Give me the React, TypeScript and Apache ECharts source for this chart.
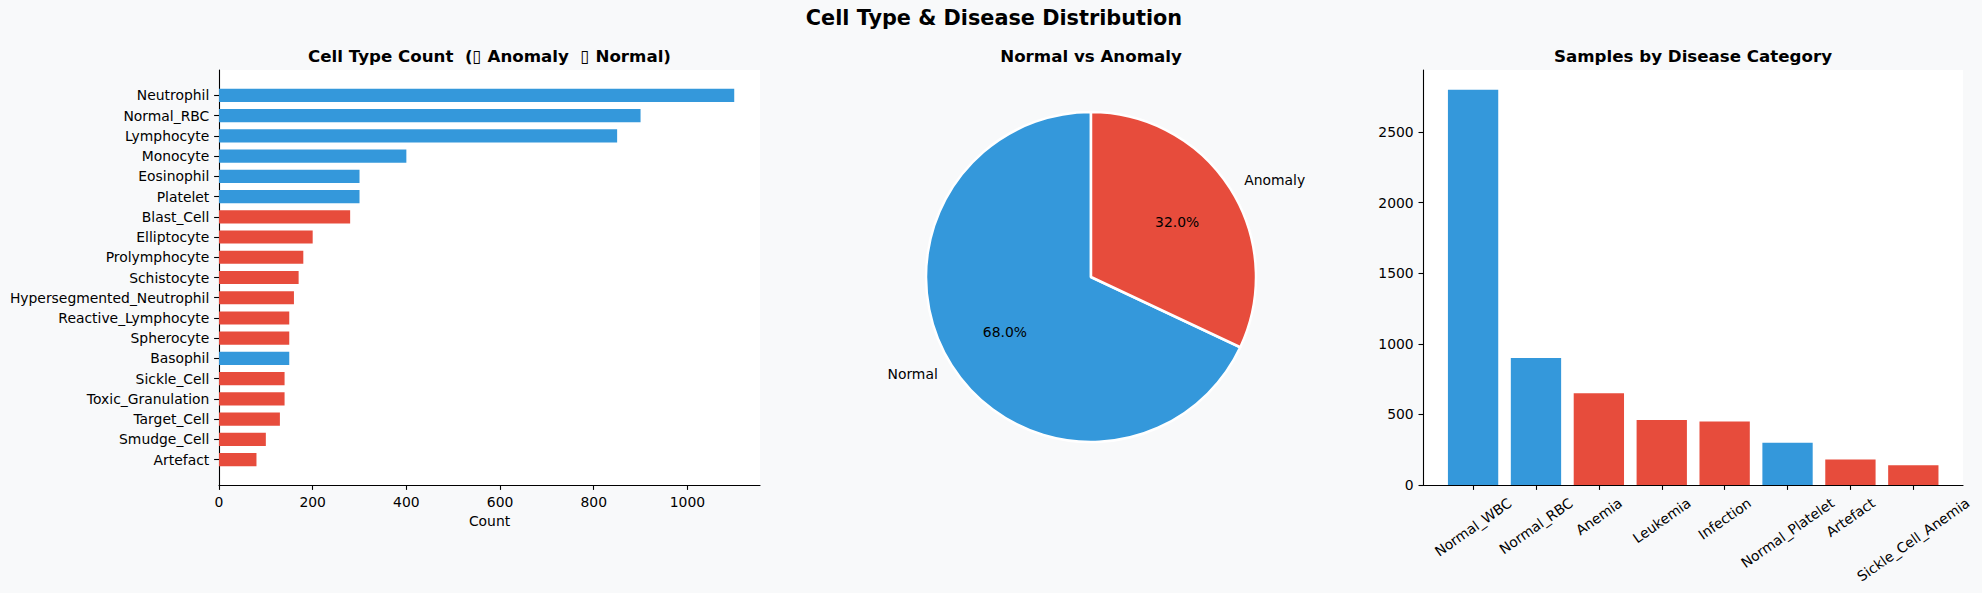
import React, { useEffect, useRef } from "react";
import * as echarts from "echarts";

const cellTypes = [
  "Neutrophil", "Normal_RBC", "Lymphocyte", "Monocyte", "Eosinophil", "Platelet",
  "Blast_Cell", "Elliptocyte", "Prolymphocyte", "Schistocyte", "Hypersegmented_Neutrophil",
  "Reactive_Lymphocyte", "Spherocyte", "Basophil", "Sickle_Cell", "Toxic_Granulation",
  "Target_Cell", "Smudge_Cell", "Artefact",
];
const cellCounts = [1100, 900, 850, 400, 300, 300, 280, 200, 180, 170, 160, 150, 150, 150, 140, 140, 130, 100, 80];
const cellIsNormal = [true, true, true, true, true, true, false, false, false, false, false, false, false, true, false, false, false, false, false];
const cellTicks = [0, 200, 400, 600, 800, 1000];

const pieLabels = ["Normal", "Anomaly"];
const pieValues = [68, 32];

const diseases = ["Normal_WBC", "Normal_RBC", "Anemia", "Leukemia", "Infection", "Normal_Platelet", "Artefact", "Sickle_Cell_Anemia"];
const diseaseCounts = [2800, 900, 650, 460, 450, 300, 180, 140];
const diseaseIsNormal = [true, true, false, false, false, true, false, false];
const diseaseTicks = [0, 500, 1000, 1500, 2000, 2500];

const BLUE = "#3498db";
const RED = "#e74c3c";
const BG = "#f8f9fa";
const FONT = '"DejaVu Sans", sans-serif';
const FS = 13.9;

function measure(s: string, font: string) {
  const c = document.createElement("canvas").getContext("2d");
  if (!c) return s.length * FS * 0.6;
  c.font = font;
  return c.measureText(s).width;
}

const axisCommon = {
  axisLine: { show: true, onZero: false, lineStyle: { color: "#000", width: 1.1 } },
  splitLine: { show: false },
};

export default function App() {
  const ref = useRef<HTMLDivElement>(null);
  useEffect(() => {
    const chart = echarts.init(ref.current!, null, { renderer: "svg" });

    // left: horizontal bars, matplotlib-like margins
    const hBar = 0.65;
    const nC = cellTypes.length;
    const spanC = nC - 1 + hBar;
    const yMinL = -hBar / 2 - 0.05 * spanC;
    const yMaxL = nC - 1 + hBar / 2 + 0.05 * spanC;
    const xMaxL = Math.max(...cellCounts) * 1.05;

    // right: vertical bars
    const wBar = 0.8;
    const nD = diseases.length;
    const spanD = nD - 1 + wBar;
    const xMinR = -wBar / 2 - 0.05 * spanD;
    const xMaxR = nD - 1 + wBar / 2 + 0.05 * spanD;
    const yMaxR = Math.max(...diseaseCounts) * 1.05;

    const rot = (35 * Math.PI) / 180;
    const lineH = FS * 1.17;
    const rich: Record<string, any> = {};
    diseases.forEach((d, i) => {
      const w = measure(d, `${FS}px "DejaVu Sans"`);
      const H = w * Math.sin(rot) + lineH * Math.cos(rot);
      rich["l" + i] = {
        fontFamily: FONT,
        fontSize: FS,
        color: "#000",
        padding: [H * Math.cos(rot), H * Math.sin(rot), 0, 0],
      };
    });

    const total = pieValues.reduce((a, b) => a + b, 0);
    const pieR = 165;
    const pieC = [1091, 277];

    const option: any = {
      animation: false,
      backgroundColor: BG,
      textStyle: { fontFamily: FONT },
      graphic: [
        { type: "text", x: 994, y: 18, style: { text: "Cell Type & Disease Distribution", font: `bold 20.8px ${FONT}`, fill: "#000", textAlign: "center", textVerticalAlign: "middle" } },
        { type: "text", x: 489.5, y: 56, style: { text: "Cell Type Count  (\u25AF Anomaly  \u25AF Normal)", font: `bold 16.67px ${FONT}`, fill: "#000", textAlign: "center", textVerticalAlign: "middle" } },
        { type: "text", x: 1091, y: 56, style: { text: "Normal vs Anomaly", font: `bold 16.67px ${FONT}`, fill: "#000", textAlign: "center", textVerticalAlign: "middle" } },
        { type: "text", x: 1693, y: 56, style: { text: "Samples by Disease Category", font: `bold 16.67px ${FONT}`, fill: "#000", textAlign: "center", textVerticalAlign: "middle" } },
      ],
      grid: [
        { left: 219, top: 70, width: 541, height: 415, show: true, backgroundColor: "#fff", borderWidth: 0 },
        { left: 1423.4, top: 70, width: 539.6, height: 415, show: true, backgroundColor: "#fff", borderWidth: 0 },
      ],
      xAxis: [
        {
          ...axisCommon,
          gridIndex: 0,
          type: "value",
          min: 0,
          max: xMaxL,
          position: "bottom",
          name: "Count",
          nameLocation: "middle",
          nameGap: 28,
          nameTextStyle: { fontFamily: FONT, fontSize: FS, color: "#000" },
          axisTick: { show: true, length: 4.9, lineStyle: { color: "#000", width: 1.1 }, customValues: cellTicks },
          axisLabel: { customValues: cellTicks, margin: 9.7, fontFamily: FONT, fontSize: FS, color: "#000", formatter: (v: number) => String(v) },
        },
        {
          ...axisCommon,
          gridIndex: 1,
          type: "value",
          min: xMinR,
          max: xMaxR,
          position: "bottom",
          axisTick: { show: true, length: 4.9, lineStyle: { color: "#000", width: 1.1 }, customValues: diseases.map((_, i) => i) },
          axisLabel: {
            customValues: diseases.map((_, i) => i),
            margin: 9.7,
            rotate: 35,
            align: "center",
            verticalAlign: "middle",
            fontFamily: FONT,
            fontSize: FS,
            color: "#000",
            rich,
            formatter: (v: number) => {
              const i = Math.round(v);
              return `{l${i}|${diseases[i]}}`;
            },
          },
        },
      ],
      yAxis: [
        {
          ...axisCommon,
          gridIndex: 0,
          type: "value",
          inverse: true,
          position: "left",
          min: yMinL,
          max: yMaxL,
          axisTick: { show: true, length: 4.9, lineStyle: { color: "#000", width: 1.1 }, customValues: cellTypes.map((_, i) => i) },
          axisLabel: {
            customValues: cellTypes.map((_, i) => i),
            margin: 9.7,
            fontFamily: FONT,
            fontSize: FS,
            color: "#000",
            formatter: (v: number) => cellTypes[Math.round(v)],
          },
        },
        {
          ...axisCommon,
          gridIndex: 1,
          type: "value",
          position: "left",
          min: 0,
          max: yMaxR,
          axisTick: { show: true, length: 4.9, lineStyle: { color: "#000", width: 1.1 }, customValues: diseaseTicks },
          axisLabel: { customValues: diseaseTicks, margin: 9.7, fontFamily: FONT, fontSize: FS, color: "#000", formatter: (v: number) => String(v) },
        },
      ],
      series: [
        {
          type: "custom",
          xAxisIndex: 0,
          yAxisIndex: 0,
          encode: { x: 0, y: 1 },
          data: cellCounts.map((v, i) => [v, i]),
          renderItem: (params: any, api: any) => {
            const v = api.value(0);
            const i = api.value(1);
            const p0 = api.coord([0, i - hBar / 2]);
            const p1 = api.coord([v, i + hBar / 2]);
            return {
              type: "rect",
              shape: { x: p0[0], y: Math.min(p0[1], p1[1]), width: p1[0] - p0[0], height: Math.abs(p1[1] - p0[1]) },
              style: { fill: cellIsNormal[params.dataIndex] ? BLUE : RED },
            };
          },
        },
        {
          type: "custom",
          xAxisIndex: 1,
          yAxisIndex: 1,
          encode: { x: 0, y: 1 },
          data: diseaseCounts.map((v, i) => [i, v]),
          renderItem: (params: any, api: any) => {
            const i = api.value(0);
            const v = api.value(1);
            const p0 = api.coord([i - wBar / 2, 0]);
            const p1 = api.coord([i + wBar / 2, v]);
            return {
              type: "rect",
              shape: { x: p0[0], y: Math.min(p0[1], p1[1]), width: p1[0] - p0[0], height: Math.abs(p1[1] - p0[1]) },
              style: { fill: diseaseIsNormal[params.dataIndex] ? BLUE : RED },
            };
          },
        },
        {
          type: "pie",
          center: pieC,
          radius: pieR,
          startAngle: 90,
          clockwise: false,
          avoidLabelOverlap: false,
          silent: true,
          itemStyle: { borderColor: "#fff", borderWidth: 2.5 },
          label: {
            show: true,
            position: "outside",
            formatter: "{b}",
            fontFamily: FONT,
            fontSize: FS,
            color: "#000",
            distanceToLabelLine: 0,
          },
          labelLine: { show: false, length: pieR * 0.1, length2: 0 },
          data: pieLabels.map((n, i) => ({ name: n, value: pieValues[i], itemStyle: { color: i === 0 ? BLUE : RED } })),
        },
        {
          type: "pie",
          center: pieC,
          radius: pieR * 1.2,
          startAngle: 90,
          clockwise: false,
          avoidLabelOverlap: false,
          silent: true,
          itemStyle: { color: "rgba(0,0,0,0)", borderWidth: 0 },
          label: {
            show: true,
            position: "inside",
            fontFamily: FONT,
            fontSize: FS,
            color: "#000",
            formatter: (p: any) => ((p.value / total) * 100).toFixed(1) + "%",
          },
          labelLine: { show: false },
          data: pieLabels.map((n, i) => ({ name: n + " %", value: pieValues[i] })),
        },
      ],
    };
    chart.setOption(option);
    return () => chart.dispose();
  }, []);
  return <div ref={ref} style={{ position: "absolute", left: 0, top: 0, width: 1982, height: 593 }} />;
}
